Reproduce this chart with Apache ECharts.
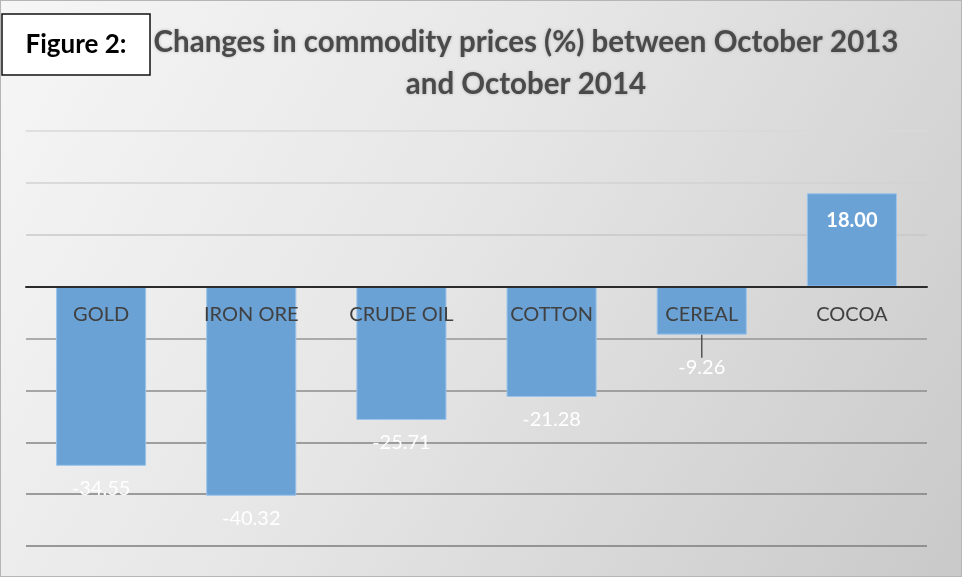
<!DOCTYPE html>
<html>
<head>
<meta charset="utf-8">
<script src="https://cdn.jsdelivr.net/npm/echarts@6/dist/echarts.min.js"></script>
<style>
html,body{margin:0;padding:0;}
#chart{width:962px;height:577px;}
</style>
</head>
<body>
<div id="chart"></div>
<script>
const categories = ['GOLD', 'IRON ORE', 'CRUDE OIL', 'COTTON', 'CEREAL', 'COCOA'];
const values = [-34.55, -40.32, -25.71, -21.28, -9.26, 18.00];
const titleText = 'Changes in commodity prices (%) between October 2013\nand October 2014';
const figureLabel = 'Figure 2:';
const yMin = -50, yMax = 30, yStep = 10;

const chart = echarts.init(document.getElementById('chart'), null, {renderer: 'canvas'});
const FONT = 'Lato, "Open Sans", sans-serif';

const GRID_TOP = 131, GRID_BOTTOM = 31, H = 577;
const plotH = H - GRID_TOP - GRID_BOTTOM;
// offset that moves the category axis from the bottom edge up to the zero line
const zeroOffset = -plotH * (0 - yMin) / (yMax - yMin);

const seriesData = values.map((v, i) => ({
  value: v,
  label: v >= 0
    ? {show: true, position: 'insideTop', distance: 17, fontWeight: 'bold'}
    : {show: true, position: 'bottom', distance: 13},
  labelLine: {show: v < 0 && v > -10, length2: 0, lineStyle: {color: '#555', width: 1.5}}
}));

chart.setOption({
  animation: false,
  graphic: [
    {
      type: 'rect', z: -10, silent: true,
      shape: {x: 0, y: 0, width: 962, height: 577},
      style: {
        fill: new echarts.graphic.LinearGradient(0, 0, 1, 1, [
          {offset: 0, color: '#f6f6f6'},
          {offset: 0.45, color: '#e6e6e6'},
          {offset: 1, color: '#c9c9c9'}
        ]),
        stroke: '#b5b5b5', lineWidth: 2
      }
    },
    {
      type: 'rect', z: 10, silent: true,
      shape: {x: 2, y: 14, width: 148, height: 61},
      style: {fill: '#ffffff', stroke: '#111111', lineWidth: 1.5}
    },
    {
      type: 'text', z: 11, silent: true, x: 76, y: 45,
      style: {text: figureLabel, align: 'center', verticalAlign: 'middle',
              font: 'bold 26px ' + FONT, fill: '#000000'}
    }
  ],
  title: {
    text: titleText,
    left: 521, top: 16, textAlign: 'center',
    textStyle: {
      fontFamily: FONT, fontWeight: 'bold', fontSize: 29.5, color: '#4a4a4a',
      lineHeight: 42, textShadowColor: 'rgba(0,0,0,0.25)', textShadowBlur: 3
    }
  },
  grid: {left: 26, right: 35, top: GRID_TOP, bottom: GRID_BOTTOM},
  xAxis: {
    type: 'category',
    data: categories,
    z: 5,
    offset: zeroOffset,
    axisLine: {onZero: false, lineStyle: {color: '#2b2b2b', width: 2}},
    axisTick: {show: false},
    axisLabel: {color: '#404040', fontSize: 20, fontFamily: FONT, margin: 18, interval: 0}
  },
  yAxis: {
    type: 'value',
    min: yMin, max: yMax, interval: yStep,
    axisLabel: {show: false},
    axisLine: {show: false},
    axisTick: {show: false},
    splitLine: {lineStyle: {
      width: 1.5,
      color: ['#7d7d7d', '#808080', '#858585', '#8c8c8c', '#969696', '#2b2b2b', '#c8c8c8', '#d2d2d2', '#d8d8d8']
    }}
  },
  series: [{
    type: 'bar',
    data: seriesData,
    barWidth: '60%',
    itemStyle: {color: '#6ba2d6', borderColor: '#9cc4ea', borderWidth: 1},
    labelLayout: p => (p.dataIndex === 4 ? {dy: 10} : {}),
    label: {
      color: '#ffffff', fontSize: 20, fontFamily: FONT,
      formatter: p => p.value.toFixed(2)
    }
  }]
});
</script>
</body>
</html>
